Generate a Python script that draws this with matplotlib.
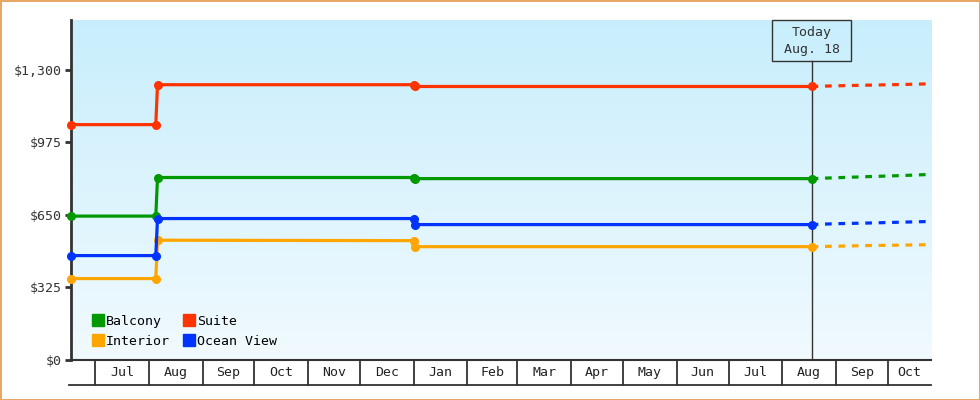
import datetime as dt
import numpy as np
import matplotlib
matplotlib.use("Agg")
import matplotlib.pyplot as plt
import matplotlib.dates as mdates
from matplotlib.lines import Line2D
from matplotlib.patches import Rectangle

# ─── data ────────────────────────────────────────────────────────
obs_dates = ["2023-06-17", "2023-08-05", "2023-08-06", "2024-01-01", "2024-01-02", "2024-08-18"]
fc_dates = ["2024-08-18", "2024-09-01", "2024-09-20", "2024-10-10", "2024-10-26"]

balcony_obs = [645, 645, 818, 818, 813, 813]
interior_obs = [365, 365, 537, 535, 508, 508]
suite_obs = [1055, 1055, 1234, 1234, 1226, 1226]
ocean_obs = [468, 468, 634, 634, 607, 607]

balcony_fc = [813, 817, 822, 827, 832]
interior_fc = [508, 510, 513, 515, 517]
suite_fc = [1226, 1229, 1232, 1235, 1238]
ocean_fc = [607, 611, 614, 618, 621]

y_ticks = [0, 325, 650, 975, 1300]
y_tick_labels = ["$0", "$325", "$650", "$975", "$1,300"]
today = "2024-08-18"
today_label = "Today\nAug. 18"
x_start, x_end = "2023-06-17", "2024-10-26"

series = [
    ("Balcony", "#009900", balcony_obs, balcony_fc),
    ("Interior", "#ffa500", interior_obs, interior_fc),
    ("Suite", "#ff3300", suite_obs, suite_fc),
    ("Ocean View", "#0033ff", ocean_obs, ocean_fc),
]

# ─── figure ──────────────────────────────────────────────────────
plt.rcParams["font.family"] = ["DejaVu Sans Mono"]
fig = plt.figure(figsize=(9.8, 4.0), dpi=100)
fig.patch.set_facecolor("white")
fig.patch.set_edgecolor("#e8a865")
fig.patch.set_linewidth(2)

ax = fig.add_axes([71 / 980, 40 / 400, 860 / 980, 340 / 400])
Y_TOP = 1524

def d2n(s):
    return mdates.date2num(dt.datetime.strptime(s, "%Y-%m-%d"))

# gradient background
grad = np.linspace(0, 1, 256).reshape(-1, 1)
top = np.array([0xc8, 0xee, 0xfc]) / 255
bot = np.array([0xf1, 0xfa, 0xff]) / 255
img = top[None, None, :] * (1 - grad[:, :, None]) + bot[None, None, :] * grad[:, :, None]
ax.imshow(img, extent=[0, 1, 0, 1], transform=ax.transAxes, aspect="auto", zorder=0)

xo = [d2n(d) for d in obs_dates]
xf = [d2n(d) for d in fc_dates]
for name, col, obs, fc in series:
    ax.plot(xo, obs, color=col, lw=2.3, marker="o", ms=5.5, zorder=3,
            solid_capstyle="butt", clip_on=False)
    ax.plot(xf, fc, color=col, lw=2.3, ls=(0, (2.1, 2.1)), dash_capstyle="butt", zorder=3)

x0, x1 = d2n(x_start), d2n(x_end)
ax.set_xlim(x0, x1)
ax.set_ylim(0, Y_TOP)

# today marker
xt = d2n(today)
box_bottom = 1340
ax.plot([xt, xt], [0, box_bottom], color="#333333", lw=1, zorder=2)
ax.add_patch(Rectangle((xt - 23, box_bottom), 46, Y_TOP - box_bottom, facecolor="none",
                       edgecolor="#333333", lw=1, zorder=4, clip_on=False))
ax.text(xt, (box_bottom + Y_TOP) / 2, today_label, ha="center", va="center", fontsize=9.5,
        color="#333333", linespacing=1.4, zorder=4)

# axes styling
for s in ["top", "right"]:
    ax.spines[s].set_visible(False)
ax.spines["left"].set_color("#333333")
ax.spines["left"].set_linewidth(2)
ax.spines["bottom"].set_color("#333333")
ax.spines["bottom"].set_linewidth(1.5)
ax.set_yticks(y_ticks)
ax.set_yticklabels(y_tick_labels, fontsize=9.5, color="#333333")
ax.tick_params(axis="y", length=4, width=2, color="#333333", pad=3)
ax.set_xticks([])

# month cells below the axis
months = mdates.num2date(x0)
m_starts = []
d = dt.datetime(months.year, months.month, 1)
while True:
    d = dt.datetime(d.year + (d.month // 12), d.month % 12 + 1, 1)
    if mdates.date2num(d) >= x1:
        break
    m_starts.append(d)
trans = ax.get_xaxis_transform()
cell_h = 25 / 340
for i, ms in enumerate(m_starts):
    xm = mdates.date2num(ms)
    ax.plot([xm, xm], [0, -cell_h], color="#333333", lw=1.3, transform=trans, clip_on=False)
    nxt = mdates.date2num(m_starts[i + 1]) if i + 1 < len(m_starts) else x1
    ax.text((xm + nxt) / 2, -cell_h / 2, ms.strftime("%b"), ha="center", va="center",
            fontsize=9.5, color="#222222", transform=trans, clip_on=False)
ax.plot([x0 - 1, x1], [-cell_h, -cell_h], color="#333333", lw=1.3, transform=trans, clip_on=False)

# legend
handles = [Line2D([], [], ls="none", marker="s", ms=8, color=c, label=n) for n, c, _, _ in series]
ax.legend(handles=handles, ncol=2, loc="lower left", bbox_to_anchor=(0.014, 0.009),
          frameon=False, fontsize=9.5, handlelength=0.8, handletextpad=0.25,
          columnspacing=1.0, labelspacing=0.5, borderpad=0.2)

fig.savefig("out.png", dpi=100)
